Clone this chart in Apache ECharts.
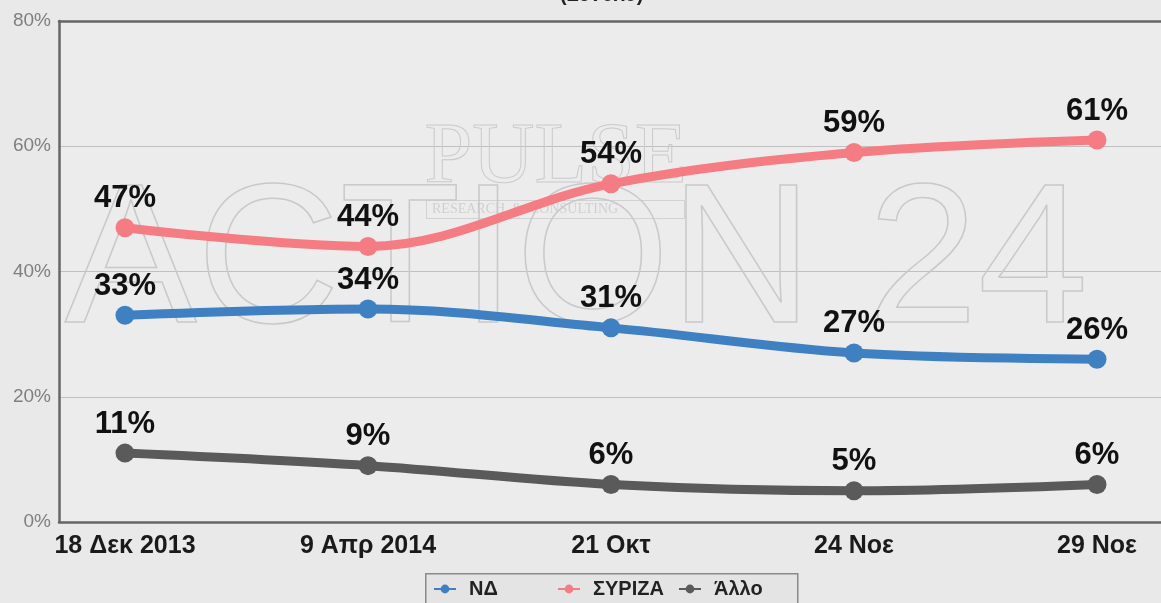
<!DOCTYPE html>
<html>
<head>
<meta charset="utf-8">
<script src="https://cdn.jsdelivr.net/npm/echarts@6/dist/echarts.min.js"></script>
<style>
  html, body { margin: 0; padding: 0; background: #e9e9e9; }
  #chart { width: 1161px; height: 603px; }
</style>
</head>
<body>
<div id="chart"></div>
<script>
const categories = ['18 Δεκ 2013', '9 Απρ 2014', '21 Οκτ', '24 Νοε', '29 Νοε'];
const ndValues = [33, 34, 31, 27, 26];
const syrizaValues = [47, 44, 54, 59, 61];
const otherValues = [11, 9, 6, 5, 6];
const yTicks = [0, 20, 40, 60, 80];
const seriesNames = ['ΝΔ', 'ΣΥΡΙΖΑ', 'Άλλο'];
const titleText = '(Σύνολο)';

const chart = echarts.init(document.getElementById('chart'));
const FONT = '"Liberation Sans", Arial, sans-serif';
const X_MIN = -0.2716, X_MAX = 4.2634;
const FRAME = { show: true, onZero: false, lineStyle: { color: '#666', width: 2.5 } };

function toPairs(arr) { return arr.map((v, i) => [i, v]); }

function makeSeries(name, values, color) {
  return {
    name: name,
    type: 'line',
    data: toPairs(values),
    smooth: 0.35,
    symbol: 'circle',
    symbolSize: 19,
    lineStyle: { width: 9, color: color },
    itemStyle: { color: color },
    z: 3,
    label: {
      show: true,
      position: 'top',
      distance: 4,
      formatter: p => p.value[1] + '%',
      fontFamily: FONT,
      fontSize: 31,
      fontWeight: 'bold',
      color: '#111'
    },
    emphasis: { disabled: true }
  };
}

function makeLegend(name, left) {
  return {
    data: [name],
    left: left,
    top: 579,
    padding: 0,
    itemWidth: 22,
    itemHeight: 11,
    textStyle: {
      fontFamily: FONT,
      fontSize: 20,
      fontWeight: 'bold',
      color: '#222',
      padding: [0, 0, 0, 8]
    },
    selectedMode: false
  };
}

chart.setOption({
  backgroundColor: '#e9e9e9',
  animation: false,
  title: {
    text: titleText,
    left: 555,
    top: -20,
    textStyle: { fontFamily: FONT, fontSize: 20, fontWeight: 'bold', color: '#222' }
  },
  graphic: [
    {
      type: 'text',
      left: 424, top: 116, z: 1, silent: true,
      style: { text: 'PULSE', font: '86px "Liberation Serif", serif', fill: 'rgba(0,0,0,0)', stroke: '#cbcbcb', lineWidth: 1 }
    },
    {
      type: 'rect',
      left: 426, top: 200, z: 1, silent: true,
      shape: { width: 258, height: 18 },
      style: { fill: 'rgba(0,0,0,0)', stroke: '#d2d2d2', lineWidth: 1 }
    },
    {
      type: 'text',
      left: 432, top: 202, z: 1, silent: true,
      style: { text: 'RESEARCH  &  CONSULTING', font: '14px "Liberation Serif", serif', fill: '#d0d0d0' }
    },
    {
      type: 'text',
      left: 64, top: 168, z: 1, silent: true,
      style: { text: 'ACTION 24', font: '198px "Liberation Sans", Arial, sans-serif', fill: 'rgba(0,0,0,0)', stroke: '#c9c9c9', lineWidth: 1.5 }
    },
    {
      type: 'rect',
      left: 425, top: 573, z: 0, silent: true,
      shape: { width: 372, height: 40 },
      style: { fill: '#e4e4e4', stroke: '#8a8a8a', lineWidth: 1.5 }
    }
  ],
  legend: [
    makeLegend(seriesNames[0], 433),
    makeLegend(seriesNames[1], 557),
    makeLegend(seriesNames[2], 678)
  ],
  grid: {
    left: 59,
    top: 21,
    bottom: 81,
    right: 0,
    show: true,
    backgroundColor: '#ececec',
    borderWidth: 0
  },
  xAxis: [
    {
      type: 'value',
      min: X_MIN,
      max: X_MAX,
      position: 'bottom',
      axisLine: FRAME,
      axisTick: { show: false },
      splitLine: { show: false },
      axisLabel: {
        customValues: categories.map((c, i) => i),
        formatter: v => categories[Math.round(v)] || '',
        margin: 12,
        fontFamily: FONT,
        fontSize: 25,
        fontWeight: 'bold',
        color: '#1a1a1a'
      }
    },
    {
      type: 'value',
      min: X_MIN,
      max: X_MAX,
      position: 'top',
      axisLine: FRAME,
      axisTick: { show: false },
      splitLine: { show: false },
      axisLabel: { show: false }
    }
  ],
  yAxis: {
    type: 'value',
    min: yTicks[0],
    max: yTicks[yTicks.length - 1],
    interval: 20,
    position: 'left',
    axisLine: FRAME,
    axisTick: { show: false },
    splitLine: { show: true, lineStyle: { color: '#c0c0c0', width: 1 } },
    axisLabel: {
      formatter: '{value}%',
      margin: 8,
      fontFamily: FONT,
      fontSize: 19,
      color: '#7f7f7f'
    }
  },
  series: [
    makeSeries(seriesNames[0], ndValues, '#3f80c2'),
    makeSeries(seriesNames[1], syrizaValues, '#f57c82'),
    makeSeries(seriesNames[2], otherValues, '#5a5a5a')
  ]
});
</script>
</body>
</html>
